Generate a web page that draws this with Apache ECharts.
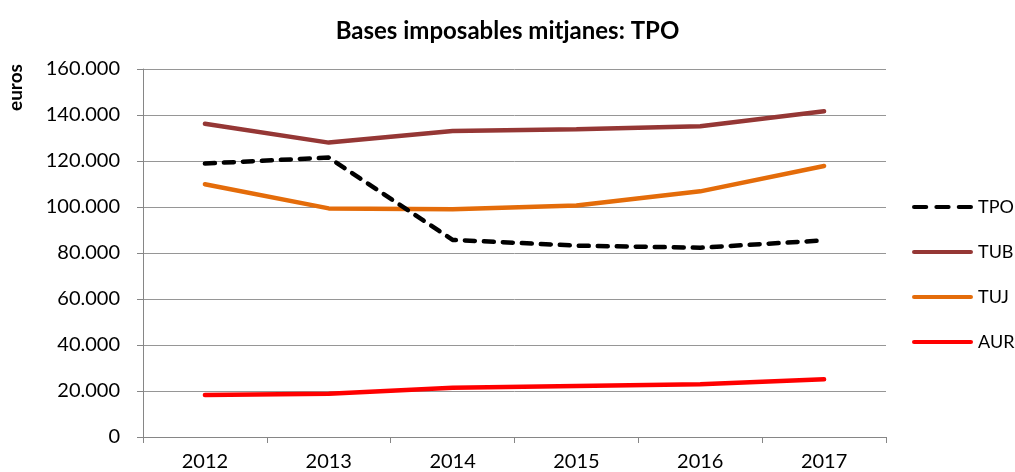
<!DOCTYPE html>
<html>
<head>
<meta charset="utf-8">
<script src="https://cdn.jsdelivr.net/npm/echarts@6/dist/echarts.min.js"></script>
<style>
  html, body { margin: 0; padding: 0; background: #fff; }
  #chart { width: 1015px; height: 472px; }
</style>
</head>
<body>
<div id="chart"></div>
<script>
// anys i valors llegits del gràfic
const years = ['2012', '2013', '2014', '2015', '2016', '2017'];
const tpo = [118900, 121500, 85700, 83200, 82300, 85500];
const tub = [136200, 128000, 133000, 133800, 135100, 141600];
const tuj = [109900, 99400, 99000, 100700, 106800, 117800];
const aur = [18300, 18800, 21400, 22200, 22900, 25100];

const font = 'Lato, "Open Sans", sans-serif';
const solidIcon = 'path://M2,0H58A2,2 0 0 1 58,4H2A2,2 0 0 1 2,0Z';
const dashIcon = 'path://M2,0H14A2,2 0 0 1 14,4H2A2,2 0 0 1 2,0Z' +
  'M24,0H36A2,2 0 0 1 36,4H24A2,2 0 0 1 24,0Z' +
  'M46,0H58A2,2 0 0 1 58,4H46A2,2 0 0 1 46,0Z';

const chart = echarts.init(document.getElementById('chart'));
chart.setOption({
  backgroundColor: '#fff',
  animation: false,
  textStyle: { fontFamily: font },
  title: {
    text: 'Bases imposables mitjanes: TPO',
    left: 'center',
    top: 14,
    textStyle: { fontSize: 24, fontWeight: 'bold', color: '#000', fontFamily: font }
  },
  graphic: [{
    type: 'text',
    x: 6,
    y: 111,
    rotation: Math.PI / 2,
    style: { text: 'euros', font: 'bold 19px ' + font, fill: '#000' }
  }],
  legend: {
    orient: 'vertical',
    left: 907,
    top: 193,
    itemWidth: 61,
    itemHeight: 5,
    itemGap: 27,
    textStyle: { fontSize: 18, color: '#000', fontFamily: font },
    data: [
      { name: 'TPO', icon: dashIcon },
      { name: 'TUB', icon: solidIcon },
      { name: 'TUJ', icon: solidIcon },
      { name: 'AUR', icon: solidIcon }
    ]
  },
  grid: { left: 143, right: 129, top: 69, bottom: 35 },
  xAxis: {
    type: 'category',
    data: years,
    boundaryGap: true,
    axisLine: { lineStyle: { color: '#868686', width: 1 } },
    axisTick: { show: true, length: 6, lineStyle: { color: '#868686' } },
    axisLabel: { fontSize: 20, color: '#000', margin: 15 }
  },
  yAxis: {
    type: 'value',
    min: 0,
    max: 160000,
    interval: 20000,
    axisLine: { show: true, lineStyle: { color: '#868686' } },
    axisTick: { show: true, length: 6, lineStyle: { color: '#868686' } },
    splitLine: { lineStyle: { color: '#969696', width: 1 } },
    axisLabel: {
      fontSize: 20,
      color: '#000',
      margin: 23,
      formatter: v => v.toString().replace(/\B(?=(\d{3})+(?!\d))/g, '.')
    }
  },
  series: [
    {
      name: 'TPO', type: 'line', data: tpo, symbol: 'none', z: 5,
      lineStyle: { color: '#000', width: 4.5, type: [10, 9], cap: 'round' },
      itemStyle: { color: '#000' }
    },
    {
      name: 'TUB', type: 'line', data: tub, symbol: 'none',
      lineStyle: { color: '#953735', width: 4.5, cap: 'round' },
      itemStyle: { color: '#953735' }
    },
    {
      name: 'TUJ', type: 'line', data: tuj, symbol: 'none',
      lineStyle: { color: '#E46C0A', width: 4.5, cap: 'round' },
      itemStyle: { color: '#E46C0A' }
    },
    {
      name: 'AUR', type: 'line', data: aur, symbol: 'none',
      lineStyle: { color: '#FF0000', width: 4.5, cap: 'round' },
      itemStyle: { color: '#FF0000' }
    }
  ]
});
</script>
</body>
</html>
